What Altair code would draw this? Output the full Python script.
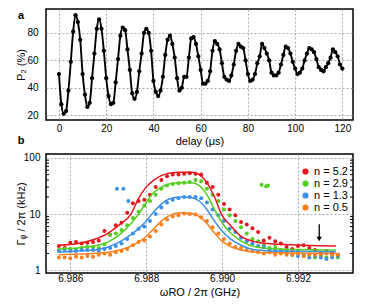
import altair as alt
import pandas as pd

# ---------------- panel a data ----------------
delay_us = list(range(121))
p2_pct = [50, 28, 21, 23, 38, 59, 81, 93, 88, 75,
          50, 35, 26, 29, 47, 65, 83, 90, 83, 67,
          47, 34, 28, 29, 44, 61, 78, 84, 82, 68,
          53, 36, 32, 37, 52, 65, 80, 83, 80, 67,
          45, 37, 34, 38, 48, 64, 75, 78, 72, 62,
          47, 38, 40, 48, 48, 62, 76, 77, 72, 63,
          53, 43, 43, 45, 52, 67, 74, 72, 68, 58,
          48, 46, 45, 49, 57, 67, 72, 70, 69, 60,
          50, 45, 46, 50, 58, 63, 72, 69, 65, 60,
          51, 49, 49, 51, 57, 64, 70, 69, 65, 59,
          54, 50, 51, 54, 60, 65, 69, 68, 66, 61,
          55, 53, 52, 55, 58, 62, 68, 66, 63, 57,
          54]

# ---------------- panel b data ----------------
series_labels = ["n = 5.2", "n = 2.9", "n = 1.3", "n = 0.5"]
series_colors = ["#e3171d", "#52cf21", "#3d8fe6", "#f7801c"]

freq_ghz = [6.98570, 6.98585, 6.98600, 6.98615, 6.98630, 6.98645, 6.98660, 6.98675, 6.98690, 6.98705,
            6.98720, 6.98735, 6.98750, 6.98765, 6.98780, 6.98795, 6.98810, 6.98825, 6.98840, 6.98855,
            6.98870, 6.98885, 6.98900, 6.98915, 6.98930, 6.98945, 6.98960, 6.98975, 6.98990, 6.99005,
            6.99020, 6.99035, 6.99050, 6.99065, 6.99080, 6.99095, 6.99110, 6.99125, 6.99140, 6.99155,
            6.99170, 6.99185, 6.99200, 6.99215, 6.99230, 6.99245, 6.99260, 6.99275, 6.99290, 6.99305]

gamma_n52 = [2.7, 2.5, 3.1, 3.2, 3.0, 3.1, 3.2, 3.4, 5.0, 4.3,
             6.3, 7.0, 10.5, 15.5, 17, 18, 22, 30, 40, 47,
             50, 50, 52, 53, 52, 50, 36, 30, 22, 15,
             12, 9.5, 7.2, 6.5, 5.6, 4.8, 3.4, 3.8, 3.3, 3.0,
             2.6, 2.4, 2.7, 2.8, 2.5, 2.3, 2.0, 2.2, 2.0, 1.9]
gamma_n29 = [2.3, 2.4, 2.4, 2.3, 2.5, 2.6, 2.6, 2.5, 2.9, 4.3,
             4.5, 5.2, 6.3, 8.5, 11, 14, 17, 22, 28, 32,
             34, 35, 36, 37, 40, 38, 28, 22, 17, 12,
             9.5, 7.5, 5.8, 4.5, 3.6, 3.3, 2.8, 2.5, 2.6, 2.3,
             2.2, 1.9, 2.2, 1.8, 1.9, 1.7, 1.8, 1.7, 1.8, 1.7]
gamma_n13 = [2.2, 2.3, 2.2, 2.2, 2.3, 2.3, 2.3, 2.2, 2.4, 2.5,
             2.7, 3.0, 3.6, 4.5, 5.5, 6.0, 7.5, 10, 13, 16,
             18, 19, 20, 20, 20, 19, 16, 12, 9.5, 7.5,
             5.5, 4.8, 3.8, 3.3, 3.0, 2.7, 2.6, 2.3, 2.2, 2.1,
             2.0, 1.9, 1.8, 1.9, 1.7, 1.8, 1.7, 1.6, 1.7, 1.8]
gamma_n05 = [1.7, 1.7, 1.65, 1.75, 1.7, 1.8, 1.75, 1.9, 2.0, 1.9,
             2.1, 2.2, 2.4, 2.8, 3.2, 3.4, 4.0, 5.0, 6.5, 8.0,
             9.0, 9.5, 10.2, 10.0, 9.8, 8.8, 7.5, 5.8, 4.5, 3.6,
             3.0, 2.6, 2.5, 2.3, 2.2, 2.1, 2.0, 2.1, 1.9, 2.0,
             1.9, 1.9, 2.0, 1.8, 1.9, 1.9, 1.9, 2.0, 1.9, 1.9]

# stray points
extra_freq = [6.98723, 6.98740, 6.98753, 6.99104, 6.99116, 6.99121]
extra_gamma = [28, 28, 17, 33, 31, 32]
extra_series = ["n = 1.3", "n = 1.3", "n = 1.3", "n = 2.9", "n = 2.9", "n = 2.9"]

# fitted curves
fit_freq = [6.9857, 6.9862, 6.9866, 6.9870, 6.9873, 6.9876, 6.9878, 6.9880, 6.9882, 6.9884, 6.9886,
            6.9889, 6.9892, 6.9894, 6.9896, 6.9898, 6.9900, 6.9902, 6.9905, 6.9909, 6.9915, 6.9930]
fit_n52 = [2.8, 3.0, 3.5, 4.6, 6.5, 10, 19, 30, 40, 48, 53, 55, 55, 50, 36, 20, 9.5, 6.5, 4.0, 3.2, 2.9, 2.7]
fit_n29 = [2.4, 2.5, 2.7, 3.2, 4.3, 6.8, 10, 16, 24, 30, 34, 36, 36, 32, 22, 12, 7, 4.8, 3.3, 2.6, 2.4, 2.3]
fit_n13 = [2.1, 2.2, 2.3, 2.6, 3.2, 4.3, 5.5, 7.5, 11, 15, 18.5, 20, 19.5, 17, 12, 7.5, 5, 3.7, 2.8, 2.3, 2.2, 2.15]
fit_n05 = [1.9, 1.95, 2.0, 2.1, 2.3, 2.7, 3.2, 4.0, 5.5, 7.5, 9.3, 10.5, 10.2, 9, 6.8, 4.6, 3.3, 2.7, 2.3, 2.1, 2.05, 2.0]

minor_ticks = [2, 3, 4, 5, 6, 7, 8, 9, 20, 30, 40, 50, 60, 70, 80, 90]
arrow_freq = [6.99256]
arrow_top = [6.6]
arrow_bottom = [3.6]

# ---------------- build tables ----------------
df_a = pd.DataFrame({"t": delay_us, "p": p2_pct})

meas_rows = []
for lab, vals in zip(series_labels, [gamma_n52, gamma_n29, gamma_n13, gamma_n05]):
    for f, v in zip(freq_ghz, vals):
        meas_rows.append({"f": f, "g": v, "s": lab})
for f, v, s in zip(extra_freq, extra_gamma, extra_series):
    meas_rows.append({"f": f, "g": v, "s": s})
df_meas = pd.DataFrame(meas_rows)

fit_rows = []
for lab, vals in zip(series_labels, [fit_n52, fit_n29, fit_n13, fit_n05]):
    for f, v in zip(fit_freq, vals):
        fit_rows.append({"f": f, "g": v, "s": lab})
df_fit = pd.DataFrame(fit_rows)

df_minor = pd.DataFrame({"g": minor_ticks})
df_arrow = pd.DataFrame({"f": arrow_freq, "top": arrow_top, "bot": arrow_bottom})

FONT = "Liberation Sans"
W = 307
HA = 111
HB = 119
YEXT = 18

# ---------------- panel a ----------------
xa = alt.X("t:Q", scale=alt.Scale(domain=[-5.5, 124.5], nice=False),
           axis=alt.Axis(values=[0, 20, 40, 60, 80, 100, 120], title="delay (μs)",
                         labelPadding=3, titlePadding=2))
ya = alt.Y("p:Q", scale=alt.Scale(domain=[16.5, 97.5], nice=False, zero=False),
           axis=alt.Axis(values=[20, 40, 60, 80], title="P₂ (%)", labelPadding=8,
                         minExtent=YEXT, maxExtent=YEXT, titlePadding=2))

base_a = alt.Chart(df_a).encode(x=xa, y=ya)
line_a = base_a.mark_line(color="black", strokeWidth=1.9, interpolate="monotone")
pts_a = base_a.mark_circle(color="black", size=18, opacity=1)
lab_a = alt.Chart(pd.DataFrame({"txt": ["a"]})).mark_text(
    fontWeight="bold", fontSize=11, font=FONT, align="center", baseline="top", color="black"
).encode(text="txt:N", x=alt.value(-25), y=alt.value(1))
lab_b = alt.Chart(pd.DataFrame({"txt": ["b"]})).mark_text(
    fontWeight="bold", fontSize=11, font=FONT, align="center", baseline="middle", color="black"
).encode(text="txt:N", x=alt.value(-25), y=alt.value(HA + 21))

panel_a = alt.layer(line_a, pts_a, lab_a, lab_b).properties(width=W, height=HA)

# ---------------- panel b ----------------
xs = alt.Scale(domain=[6.98536, 6.99345], nice=False, zero=False)
ys = alt.Scale(type="log", domain=[0.9, 116], nice=False)
cs = alt.Scale(domain=series_labels, range=series_colors)

xb_axis = alt.Axis(values=[6.986, 6.988, 6.990, 6.992], format=".3f",
                   title="ωRO / 2π (GHz)", labelPadding=0, titlePadding=3)
yb_axis = alt.Axis(values=[1, 10, 100], format="d", title="Γᵩ / 2π (kHz)",
                   labelPadding=6, minExtent=YEXT, maxExtent=YEXT, titlePadding=2)

fits = alt.Chart(df_fit).mark_line(strokeWidth=1.5, interpolate="monotone").encode(
    x=alt.X("f:Q", scale=xs, axis=xb_axis),
    y=alt.Y("g:Q", scale=ys, axis=yb_axis),
    color=alt.Color("s:N", scale=cs, legend=None),
    detail="s:N",
)
meas = alt.Chart(df_meas).mark_circle(size=16, opacity=1).encode(
    x=alt.X("f:Q", scale=xs),
    y=alt.Y("g:Q", scale=ys),
    color=alt.Color("s:N", scale=cs, sort=series_labels,
                    legend=alt.Legend(title=None, orient="none", legendX=254, legendY=12,
                                      symbolType="circle", symbolSize=22, labelFontSize=11,
                                      rowPadding=0, labelOffset=3, labelFont=FONT)),
)
tick_l = alt.Chart(df_minor).mark_rule(color="black", strokeWidth=1).encode(
    y=alt.Y("g:Q", scale=ys), x=alt.value(0), x2=alt.value(3))
tick_r = alt.Chart(df_minor).mark_rule(color="black", strokeWidth=1).encode(
    y=alt.Y("g:Q", scale=ys), x=alt.value(W - 3), x2=alt.value(W))
arrow_shaft = alt.Chart(df_arrow).mark_rule(color="black", strokeWidth=1.3).encode(
    x=alt.X("f:Q", scale=xs), y=alt.Y("top:Q", scale=ys), y2="bot:Q")
arrow_head = alt.Chart(df_arrow).mark_point(shape="triangle-down", filled=True, color="black",
                                            size=28, opacity=1).encode(
    x=alt.X("f:Q", scale=xs), y=alt.Y("bot:Q", scale=ys))

panel_b = alt.layer(meas, fits, tick_l, tick_r, arrow_shaft, arrow_head).properties(width=W, height=HB)

chart = alt.vconcat(panel_a, panel_b, spacing=4).resolve_scale(color="independent").properties(
    padding={"left": 6, "top": 0, "right": 0, "bottom": 0}
).configure(font=FONT).configure_view(
    stroke="black", strokeWidth=1.5
).configure_axis(
    grid=True, gridColor="#a8a8a8", gridDash=[2, 2], gridWidth=1,
    domain=False, ticks=False,
    labelFont=FONT, labelFontSize=10, labelColor="black",
    titleFont=FONT, titleFontSize=11, titleFontWeight="normal", titleColor="black",
).configure_legend(labelColor="black")

chart.save("out.html", embed_options={"renderer": "svg", "actions": False})
